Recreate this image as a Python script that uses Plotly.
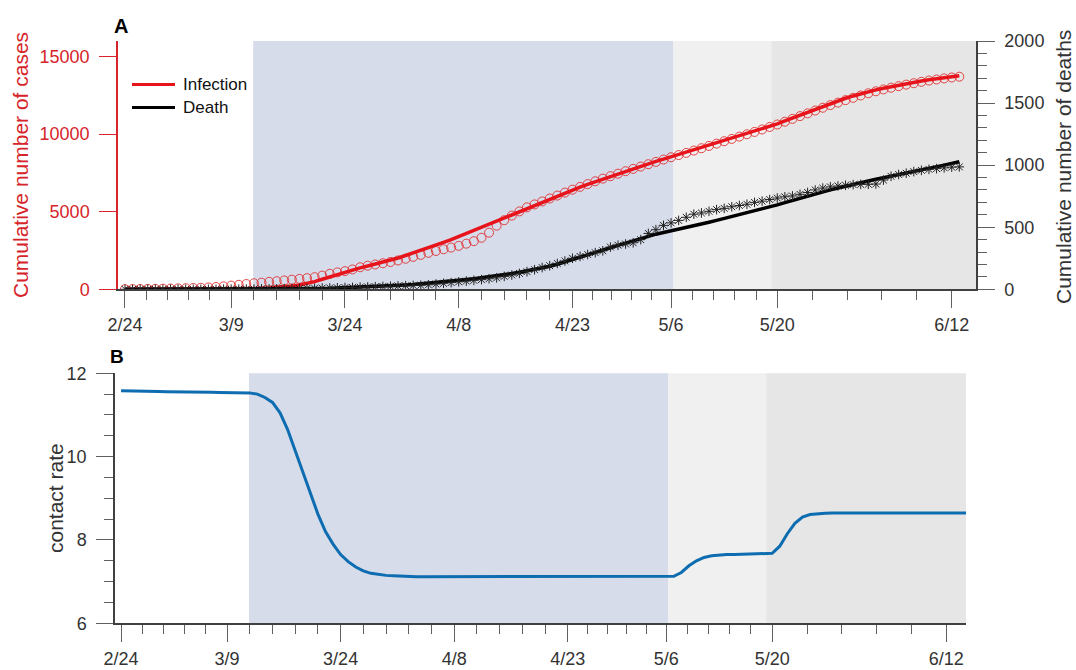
import pandas as pd
import plotly.graph_objects as go

# ---------------- data ----------------
start_date = "2020-02-24"
dates = pd.date_range(start_date, periods=111)          # 2/24 .. 6/13
dates_rate = pd.date_range(start_date, periods=113)     # 2/24 .. 6/15

cases_obs = [10, 15, 20, 25, 30, 40, 50, 60, 70, 85,
             100, 120, 150, 190, 240, 290, 340, 390, 430, 480,
             520, 570, 620, 670, 720, 780, 880, 1000, 1090, 1170,
             1280, 1420, 1520, 1600, 1680, 1760, 1860, 1970, 2090, 2220,
             2350, 2470, 2580, 2690, 2800, 2940, 3100, 3320, 3650, 4100,
             4450, 4750, 5020, 5280, 5470, 5660, 5850, 6040, 6230, 6420,
             6600, 6780, 6960, 7130, 7290, 7450, 7610, 7760, 7910, 8060,
             8210, 8360, 8510, 8650, 8790, 8940, 9090, 9240, 9390, 9540,
             9690, 9840, 9990, 10140, 10300, 10460, 10620, 10800, 10980, 11160,
             11340, 11520, 11700, 11870, 12030, 12190, 12340, 12490, 12630, 12760,
             12880, 12990, 13090, 13190, 13280, 13370, 13450, 13520, 13590, 13650,
             13700]

cases_model = [0, 1, 1, 2, 2, 3, 4, 5, 6, 8,
               10, 12, 15, 19, 23, 28, 35, 44, 60, 85,
               115, 160, 215, 280, 380, 495, 650, 800, 960, 1120,
               1250, 1380, 1500, 1620, 1740, 1870, 2020, 2180, 2340, 2500,
               2660, 2840, 3020, 3200, 3400, 3600, 3800, 4000, 4200, 4400,
               4600, 4810, 5020, 5230, 5440, 5640, 5840, 6030, 6220, 6400,
               6580, 6760, 6930, 7100, 7270, 7440, 7600, 7760, 7920, 8080,
               8240, 8390, 8540, 8690, 8840, 8990, 9140, 9290, 9440, 9590,
               9740, 9890, 10040, 10190, 10340, 10500, 10660, 10850, 11040, 11230,
               11420, 11610, 11800, 11980, 12150, 12310, 12460, 12600, 12730, 12850,
               12960, 13060, 13160, 13250, 13340, 13420, 13500, 13570, 13640, 13700,
               13760]

deaths_model = [0, 0, 0, 0, 0, 0, 0, 0, 0, 0,
                1, 1, 1, 1, 1, 2, 2, 2, 3, 3,
                3, 4, 4, 5, 6, 6, 7, 8, 10, 12,
                14, 16, 18, 21, 24, 27, 31, 35, 39, 44,
                49, 54, 60, 66, 72, 79, 86, 93, 100, 108,
                117, 127, 137, 148, 160, 173, 186, 202, 220, 238,
                256, 276, 296, 316, 335, 354, 373, 392, 411, 430,
                444, 457, 470, 484, 498, 512, 526, 540, 555, 570,
                585, 600, 615, 630, 645, 662, 680, 698, 716, 733,
                751, 768, 785, 801, 816, 831, 846, 860, 873, 886,
                898, 910, 923, 935, 948, 960, 973, 987, 1000, 1014,
                1028]

deaths_obs = [0, 0, 0, 0, 0, 0, 0, 0, 0, 0,
              0, 0, 0, 1, 1, 1, 2, 2, 3, 3,
              4, 5, 6, 7, 8, 9, 10, 11, 12, 14,
              15, 17, 19, 21, 23, 25, 27, 29, 31, 33,
              36, 42, 48, 54, 60, 66, 72, 78, 85, 92,
              104, 115, 128, 142, 158, 175, 190, 208, 228, 250,
              265, 280, 295, 310, 340, 355, 365, 375, 400, 450,
              480, 515, 535, 555, 580, 605, 615, 628, 642, 652,
              665, 675, 685, 700, 710, 723, 735, 745, 752, 765,
              780, 800, 815, 825, 832, 838, 843, 845, 846, 848,
              880, 910, 925, 935, 948, 958, 966, 972, 978, 984,
              986]

contact_rate = [11.58, 11.58, 11.575, 11.57, 11.57, 11.565, 11.56, 11.56, 11.555, 11.55,
                11.55, 11.55, 11.545, 11.54, 11.54, 11.54, 11.535, 11.53, 11.5, 11.42,
                11.3, 11.05, 10.65, 10.15, 9.65, 9.12, 8.62, 8.2, 7.9, 7.65,
                7.48, 7.35, 7.26, 7.2, 7.17, 7.15, 7.14, 7.13, 7.12, 7.12,
                7.12, 7.12, 7.12, 7.12, 7.12, 7.12, 7.12, 7.12, 7.12, 7.12,
                7.12, 7.12, 7.12, 7.12, 7.12, 7.12, 7.12, 7.12, 7.12, 7.12,
                7.12, 7.12, 7.12, 7.12, 7.12, 7.12, 7.12, 7.12, 7.12, 7.12,
                7.12, 7.12, 7.12, 7.13, 7.22, 7.38, 7.5, 7.58, 7.62, 7.64,
                7.65, 7.65, 7.655, 7.66, 7.66, 7.66, 7.68, 7.85, 8.15, 8.4,
                8.55, 8.61, 8.63, 8.64, 8.65, 8.65, 8.65, 8.65, 8.65, 8.65,
                8.65, 8.65, 8.65, 8.65, 8.65, 8.65, 8.65, 8.65, 8.65, 8.65,
                8.65, 8.65, 8.65]

tick_dates = ["2020-02-24", "2020-03-09", "2020-03-24", "2020-04-08",
              "2020-04-23", "2020-05-06", "2020-05-20", "2020-06-12"]
tick_labels = ["2/24", "3/9", "3/24", "4/8", "4/23", "5/6", "5/20", "6/12"]

legend_names = ["Infection", "Death"]
legend_colors = ["#e8141c", "#000000"]

# intervention phases (start day offsets from 2/24) and shading colours
phase_bounds = [16.9, 72.3, 85.2]
phase_colors = ["#d6dcea", "#f0f0f0", "#e6e6e6"]

# ---------------- helpers ----------------
base = pd.Timestamp(start_date)
def day(d):
    return (base + pd.Timedelta(days=d)).strftime("%Y-%m-%d %H:%M:%S")

x_range_top = [day(-0.92), day(112.2)]
x_range_bot = [day(-0.8), day(111.6)]

# minor ticks: 4 between consecutive labelled dates
tk = [pd.Timestamp(t) for t in tick_dates]
minor_vals = []
for a, b in zip(tk[:-1], tk[1:]):
    for k in range(1, 5):
        minor_vals.append((a + (b - a) * k / 5).strftime("%Y-%m-%d %H:%M:%S"))

RED = "#e8141c"
RED_TXT = "#d6242a"
GRAY = "#404040"
FONT = "Liberation Sans, Arial, Helvetica, sans-serif"

fig = go.Figure()

fig.add_trace(go.Scatter(x=dates, y=cases_obs, mode="markers", showlegend=False,
                         marker=dict(symbol="circle-open", size=9,
                                     color="rgba(225,40,40,0.85)",
                                     line=dict(color="rgba(225,40,40,0.85)", width=1)),
                         xaxis="x", yaxis="y"))
fig.add_trace(go.Scatter(x=dates, y=cases_model, mode="lines", name="Infection",
                         showlegend=False,
                         line=dict(color=RED, width=3.5), xaxis="x", yaxis="y"))
fig.add_trace(go.Scatter(x=dates, y=deaths_model, mode="lines", name="Death",
                         showlegend=False,
                         line=dict(color="#000000", width=3.5), xaxis="x", yaxis="y2"))
fig.add_trace(go.Scatter(x=dates, y=deaths_obs, mode="markers", showlegend=False,
                         marker=dict(symbol="asterisk-open", size=8, color="#222222",
                                     line=dict(color="#222222", width=1)),
                         xaxis="x", yaxis="y2"))
fig.add_trace(go.Scatter(x=dates_rate, y=contact_rate, mode="lines", showlegend=False,
                         line=dict(color="#0e6cb0", width=3), xaxis="x2", yaxis="y3"))

W, H = 1076, 670
def px(x):
    return x / W
def py(y):
    return 1 - y / H

# shading
shapes = []
for xr, yr, rng_end in (("x", "y domain", 112.2), ("x2", "y3 domain", 111.6)):
    ends = phase_bounds[1:] + [rng_end]
    for s, e, c in zip(phase_bounds, ends, phase_colors):
        shapes.append(dict(type="rect", xref=xr, yref=yr, x0=day(s), x1=day(e),
                           y0=0, y1=1, fillcolor=c, line=dict(width=0), layer="below"))

# legend (drawn in paper space)
annotations = []
for i, (nm, col) in enumerate(zip(legend_names, legend_colors)):
    yy = 84.5 + 23 * i
    shapes.append(dict(type="line", xref="paper", yref="paper", x0=px(132), x1=px(175),
                       y0=py(yy), y1=py(yy), line=dict(color=col, width=3)))
    annotations.append(dict(text=nm, x=px(181), y=py(yy), xref="paper", yref="paper",
                            xanchor="left", yanchor="middle", showarrow=False,
                            font=dict(size=17, color="#111111", family=FONT)))

xcommon = dict(type="date", tickmode="array", tickvals=tick_dates,
               ticktext=tick_labels, ticks="outside", ticklen=17, tickwidth=1.3,
               tickcolor="#606060", showline=True, linecolor=GRAY, linewidth=1.5,
               showgrid=False, zeroline=False, ticklabelstandoff=1, automargin=False,
               tickfont=dict(size=18, color="#333333", family=FONT),
               minor=dict(tickmode="array", tickvals=minor_vals, ticks="outside",
                          ticklen=9, tickwidth=1.3, tickcolor="#606060", showgrid=False))

annotations += [
    dict(text="<b>A</b>", x=px(112), y=py(26), xref="paper", yref="paper",
         xanchor="left", yanchor="middle", showarrow=False,
         font=dict(size=20, color="#000000", family=FONT)),
    dict(text="<b>B</b>", x=px(108), y=py(356), xref="paper", yref="paper",
         xanchor="left", yanchor="middle", showarrow=False,
         font=dict(size=19, color="#000000", family=FONT)),
    dict(text="Cumulative number of cases", x=px(21), y=py(165), xref="paper",
         yref="paper", textangle=-90, showarrow=False, xanchor="center",
         yanchor="middle", font=dict(size=21, color=RED_TXT, family=FONT)),
    dict(text="Cumulative number of deaths", x=px(1064), y=py(167), xref="paper",
         yref="paper", textangle=-90, showarrow=False, xanchor="center",
         yanchor="middle", font=dict(size=21, color="#333333", family=FONT)),
    dict(text="contact rate", x=px(55), y=py(498), xref="paper", yref="paper",
         textangle=-90, showarrow=False, xanchor="center", yanchor="middle",
         font=dict(size=21, color="#333333", family=FONT)),
]

fig.update_layout(
    width=W, height=H, margin=dict(l=0, r=0, t=0, b=0),
    paper_bgcolor="white", plot_bgcolor="white",
    font=dict(family=FONT, color="#333333"),
    showlegend=False,
    shapes=shapes,
    xaxis=dict(domain=[px(118), px(976)], anchor="y", range=x_range_top, **xcommon),
    yaxis=dict(domain=[py(289.3), py(41)], range=[0, 16000], automargin=False,
               tickvals=[0, 5000, 10000, 15000], tickformat="d", ticks="outside", ticklen=17,
               tickwidth=1.3, tickcolor=RED_TXT, showline=True, linecolor=RED_TXT,
               linewidth=1.5, showgrid=False, zeroline=False, ticklabelstandoff=6,
               tickfont=dict(size=18, color=RED_TXT, family=FONT)),
    yaxis2=dict(overlaying="y", side="right", anchor="x", range=[0, 2000], automargin=False,
                tickvals=[0, 500, 1000, 1500, 2000], tickformat="d", ticks="outside", ticklen=17,
                tickwidth=1.3, tickcolor="#606060", showline=True, linecolor=GRAY,
                linewidth=1.5, showgrid=False, zeroline=False, ticklabelstandoff=6,
                tickfont=dict(size=18, color="#333333", family=FONT),
                minor=dict(dtick=100, ticks="outside", ticklen=9, tickwidth=1.3,
                           tickcolor="#606060", showgrid=False)),
    xaxis2=dict(domain=[px(115), px(966)], anchor="y3", range=x_range_bot, **xcommon),
    yaxis3=dict(domain=[py(623.3), py(373.3)], anchor="x2", range=[6, 12], automargin=False,
                tickvals=[6, 8, 10, 12], ticks="outside", ticklen=17, tickwidth=1.3,
                tickcolor="#606060", showline=True, linecolor=GRAY, linewidth=1.5,
                showgrid=False, zeroline=False, ticklabelstandoff=6,
                tickfont=dict(size=18, color="#333333", family=FONT),
                minor=dict(dtick=0.5, ticks="outside", ticklen=9, tickwidth=1.3,
                           tickcolor="#606060", showgrid=False)),
    annotations=annotations,
)

fig.write_html("out.html", config={"displayModeBar": False},
               post_script="document.body.style.margin='0px';"
               "document.body.style.overflow='hidden';")
